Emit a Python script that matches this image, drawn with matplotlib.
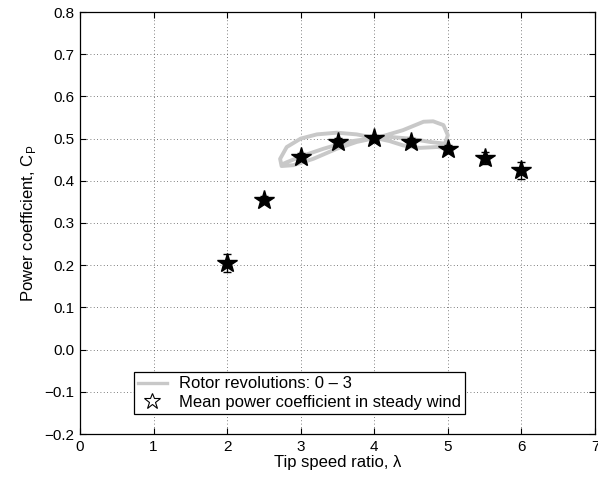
import matplotlib
matplotlib.use("Agg")
import matplotlib.pyplot as plt
from matplotlib.lines import Line2D
from matplotlib.ticker import FuncFormatter

plt.rcParams['font.family'] = ['Liberation Sans', 'DejaVu Sans']

# Mean power coefficient in steady wind
tsr = [2.0, 2.5, 3.0, 3.5, 4.0, 4.5, 5.0, 5.5, 6.0]
cp_mean = [0.205, 0.355, 0.457, 0.493, 0.501, 0.493, 0.476, 0.454, 0.425]
cp_err = [0.022, 0.008, 0.008, 0.008, 0.008, 0.008, 0.010, 0.014, 0.020]

# Rotor revolutions 0-3 (grey loop)
loop_tsr = [4.995, 4.85, 4.62, 4.39, 4.21, 4.00, 3.76, 3.49, 3.22, 3.00, 2.81,
            2.72, 2.74, 2.90, 3.17, 3.49, 3.76, 4.08, 4.39, 4.67, 4.80, 4.94,
            5.00, 4.96, 4.76, 4.48, 4.21, 3.94, 3.62, 3.31, 3.04, 2.81, 2.76]
loop_cp = [0.478, 0.480, 0.478, 0.484, 0.494, 0.502, 0.510, 0.514, 0.510, 0.500, 0.480,
           0.452, 0.435, 0.437, 0.452, 0.476, 0.492, 0.504, 0.520, 0.540, 0.541, 0.532,
           0.508, 0.488, 0.492, 0.500, 0.504, 0.500, 0.492, 0.476, 0.460, 0.444, 0.440]

xticks = [0, 1, 2, 3, 4, 5, 6, 7]
yticks = [-0.2, -0.1, 0.0, 0.1, 0.2, 0.3, 0.4, 0.5, 0.6, 0.7, 0.8]

fig = plt.figure(figsize=(5.98, 4.79), dpi=100)
ax = fig.add_axes([80/598, 45/479, 515/598, 422/479])

ax.plot(loop_tsr, loop_cp, color='#c8c8c8', lw=2.8, zorder=2, solid_joinstyle='round')
ax.errorbar(tsr, cp_mean, yerr=cp_err, fmt='none', ecolor='black', elinewidth=1.0,
            capsize=3, zorder=3)
ax.plot(tsr, cp_mean, linestyle='none', marker='*', markersize=14.5, color='black',
        markeredgecolor='black', zorder=4)

ax.set_xlim(0, 7)
ax.set_ylim(-0.2, 0.8)
ax.set_xticks(xticks)
ax.set_yticks(yticks)
ax.yaxis.set_major_formatter(FuncFormatter(lambda v, p: f'{v:.1f}'.replace('-', '\u2212')))
ax.grid(True, linestyle=(0, (1, 3)), color='#555555', linewidth=0.6)
ax.tick_params(direction='in', top=True, right=True, labelsize=11, length=4, pad=4)
for s in ax.spines.values():
    s.set_linewidth(0.9)

ax.set_xlabel('Tip speed ratio, λ', fontsize=12, labelpad=1)
ax.set_ylabel('Power coefficient, C$_\\mathregular{P}$', fontsize=12, labelpad=5)

handles = [Line2D([], [], color='#c8c8c8', lw=2.4),
           Line2D([], [], linestyle='none', marker='*', markersize=12,
                  markerfacecolor='white', markeredgecolor='black', markeredgewidth=0.8)]
leg = ax.legend(handles, ['Rotor revolutions: 0 \u2013 3', 'Mean power coefficient in steady wind'],
                loc='lower left', bbox_to_anchor=(54/515, 20/422), fontsize=12,
                fancybox=False, edgecolor='black', framealpha=1, borderpad=0.25,
                handlelength=1.7, labelspacing=0.2, handletextpad=0.75, borderaxespad=0)
leg.get_frame().set_linewidth(0.9)

fig.savefig('out.png', dpi=100)
